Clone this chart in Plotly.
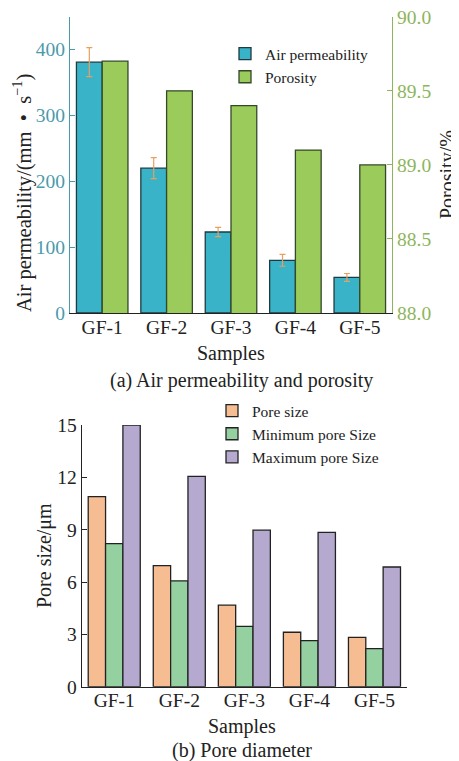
import plotly.graph_objects as go

samples = ["GF-1", "GF-2", "GF-3", "GF-4", "GF-5"]
air_perm = [381, 220, 123, 80, 54]
air_perm_err = [22, 16, 7, 9, 6]
porosity = [89.7, 89.5, 89.4, 89.1, 89.0]

pore_size = [10.9, 6.94, 4.67, 3.12, 2.83]
min_pore = [8.2, 6.06, 3.46, 2.64, 2.18]
max_pore = [15.0, 12.05, 8.97, 8.85, 6.86]

# page has an 8px body margin; size the figure so it fills the window exactly
OFF = 8
W, H = 459 - OFF, 761 - OFF
FONT = "Liberation Serif"
TEAL = "#4a9aab"
GREEN_AX = "#8db55b"
INK = "#222222"

def px(x):
    return (x - OFF) / W

def py(y):
    return 1 - (y - OFF) / H

fig = go.Figure()

fig.add_trace(go.Bar(
    x=samples, y=air_perm, name="Air permeability", xaxis="x", yaxis="y",
    marker=dict(color="#38b3c8", line=dict(color="#1f3a40", width=1.3)),
    width=0.4, offset=-0.4,
    error_y=dict(type="data", array=air_perm_err, color="#e8a060", thickness=1.2, width=3),
    legend="legend",
))
fig.add_trace(go.Bar(
    x=samples, y=porosity, name="Porosity", xaxis="x", yaxis="y2",
    marker=dict(color="#9bcb5a", line=dict(color="#34482a", width=1.3)),
    width=0.4, offset=0,
    legend="legend",
))

colors_b = ["#f6bd93", "#95d1a0", "#b5a9cf"]
names_b = ["Pore size", "Minimum pore Size", "Maximum pore Size"]
for vals, c, n in zip([pore_size, min_pore, max_pore], colors_b, names_b):
    fig.add_trace(go.Bar(
        x=samples, y=vals, name=n, xaxis="x2", yaxis="y3",
        marker=dict(color=c, line=dict(color=INK, width=1.3)),
        legend="legend2",
    ))

TS = 19.5

def ann(text, x, y, size, angle=0):
    return dict(text=text, x=px(x), y=py(y), xref="paper", yref="paper",
                xanchor="center", yanchor="middle", textangle=angle, showarrow=False,
                font=dict(family=FONT, size=size, color=INK))

fig.update_layout(
    width=W, height=H,
    margin=dict(l=0, r=0, t=0, b=0, autoexpand=False),
    paper_bgcolor="white", plot_bgcolor="white",
    font=dict(family=FONT, size=17, color=INK),
    barmode="group", bargap=0.2, bargroupgap=0,
    xaxis=dict(domain=[px(70), px(392)], anchor="y", showline=True, linecolor=INK,
               linewidth=1.3, ticks="", tickfont=dict(family=FONT, size=TS, color=INK),
               ticklabelstandoff=-4, showgrid=False, automargin=False),
    yaxis=dict(domain=[py(313), py(16.7)], anchor="x", range=[0, 450],
               tickvals=[0, 100, 200, 300, 400], showline=True, linecolor=TEAL, linewidth=1.3,
               ticks="inside", ticklen=5, tickcolor=TEAL,
               tickfont=dict(family=FONT, size=TS, color=TEAL), showgrid=False, zeroline=False,
               automargin=False),
    yaxis2=dict(overlaying="y", side="right", anchor="x", range=[88, 90.0005],
                tickvals=[88.0, 88.5, 89.0, 89.5, 90.0], tickformat=".1f",
                showline=True, linecolor=GREEN_AX, linewidth=1.3,
                ticks="inside", ticklen=5, tickcolor=GREEN_AX, ticklabeloverflow="allow",
                tickfont=dict(family=FONT, size=TS, color=GREEN_AX), showgrid=False, zeroline=False,
                automargin=False),
    xaxis2=dict(domain=[px(81.7), px(407)], anchor="y3", showline=True, linecolor=INK,
                linewidth=1.3, ticks="", tickfont=dict(family=FONT, size=TS, color=INK),
                ticklabelstandoff=-4, showgrid=False, automargin=False),
    yaxis3=dict(domain=[py(686.7), py(425)], anchor="x2", range=[0, 15],
                tickvals=[0, 3, 6, 9, 12, 15], showline=True, linecolor=INK, linewidth=1.3,
                ticks="inside", ticklen=5, tickcolor=INK,
                tickfont=dict(family=FONT, size=TS, color=INK), showgrid=False, zeroline=False,
                automargin=False),
    legend=dict(x=px(225), y=py(37), xanchor="left", yanchor="top",
                font=dict(family=FONT, size=15.5, color=INK), bgcolor="rgba(0,0,0,0)",
                tracegroupgap=0),
    legend2=dict(x=px(212), y=py(394), xanchor="left", yanchor="top",
                 font=dict(family=FONT, size=15.5, color=INK), bgcolor="rgba(0,0,0,0)",
                 tracegroupgap=0),
    annotations=[
        ann("Air permeability/(mm  •  s<sup>−1</sup>)", 22, 193, 20.5, -90),
        ann("Porosity/%", 447, 175, 20, -90),
        ann("Samples", 231, 353, 20),
        ann("(a) Air permeability and porosity", 242, 380, 20),
        ann("Pore size/μm", 44, 556, 20, -90),
        ann("Samples", 242, 726, 20),
        ann("(b) Pore diameter", 242, 750, 20),
    ],
)

fig.write_html("out.html")
